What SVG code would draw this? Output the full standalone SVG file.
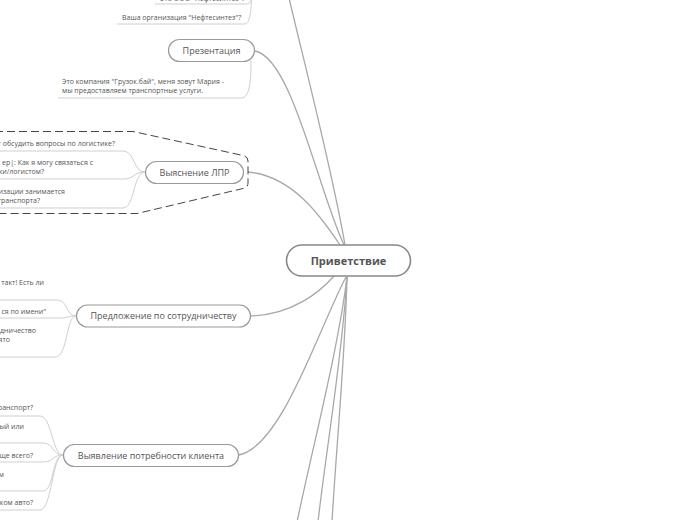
<svg xmlns="http://www.w3.org/2000/svg" width="696" height="520" viewBox="0 0 696 520">
<style>
.bg{fill:#ffffff}
.node rect{fill:#ffffff;stroke:#9a9a9a;stroke-width:1.2}
.root rect{fill:#ffffff;stroke:#888888;stroke-width:1.6}
.nt{font-family:"Open Sans","Liberation Sans",sans-serif;font-size:9px;fill:#555555;text-anchor:middle}
.rt{font-family:"Open Sans","Liberation Sans",sans-serif;font-size:11px;font-weight:bold;fill:#555555;text-anchor:middle}
.ct{font-family:"Open Sans","Liberation Sans",sans-serif;font-size:7px;fill:#555555}
.ce{text-anchor:end}
.main{fill:none;stroke:#a8a8a8;stroke-width:1.3}
.sub{fill:none;stroke:#cfcfcf;stroke-width:1}
.bound{fill:none;stroke:#444444;stroke-width:1;stroke-dasharray:8,4}
</style>
<rect class="bg" x="0" y="0" width="696" height="520"/>

<g id="connectors">
  <path class="main" d="M345,245 C332,170 306,70 289,-2"/>
  <path class="main" d="M255,51 C292,58 318,190 344,245"/>
  <path class="main" d="M248,172 C292,176 320,215 340,245"/>
  <path class="main" d="M250,316 C292,315 320,292 334,276"/>
  <path class="main" d="M239,455 C282,446 318,330 346,277"/>
  <path class="main" d="M347,277 C338,350 312,450 297,522"/>
  <path class="main" d="M347,277 C342,360 326,450 318,522"/>
  <path class="main" d="M347,277 C345,360 336,450 332,522"/>
  <!-- top branch children -->
  <path class="sub" d="M252,-12 C252,0 251,4 246,4 L155,4"/>
  <path class="sub" d="M252,-12 C251,10 251,24 244,24 L117,24"/>
  <!-- presentation child -->
  <path class="sub" d="M251,60 C251,80 250,98 241,98 L58,98"/>
  <!-- LPR children -->
  <path class="sub" d="M145,172 C133,172 135,151 123,151 L-5,151"/>
  <path class="sub" d="M145,172 C133,172 135,179 123,179 L-5,179"/>
  <path class="sub" d="M145,172 C133,172 135,208 123,208 L-5,208"/>
  <!-- offer children -->
  <path class="sub" d="M76,316 C66,316 68,300 57,300 L-5,300"/>
  <path class="sub" d="M76,316 C66,316 70,318 60,318 L-5,318"/>
  <path class="sub" d="M76,316 C66,316 68,357 55,357 L-5,357"/>
  <!-- needs children -->
  <path class="sub" d="M63,455 C52,455 52,416 40,416 L-5,416"/>
  <path class="sub" d="M63,455 C52,455 54,443 43,443 L-5,443"/>
  <path class="sub" d="M63,455 C52,455 54,462 43,462 L-5,462"/>
  <path class="sub" d="M63,455 C52,455 54,491 43,491 L-5,491"/>
  <path class="sub" d="M63,455 C52,455 52,510 40,510 L-5,510"/>
</g>

<g id="boundary-lpr">
  <path class="bound" d="M-5,131.5 L133,131.5 L243,155.5 Q248,156.5 248,161 L248,183 Q248,187.5 243,188.5 L137,213.5 L-5,213.5"/>
</g>

<g id="n-top-children">
  <text class="ct" x="160" y="1">Это ООО "Нефтесинтез"?</text>
  <text class="ct" x="122" y="19.5">Ваша организация "Нефтесинтез"?</text>
</g>

<g id="n-presentation" class="node">
  <rect x="168.5" y="39.5" width="86" height="22" rx="11"/>
  <text class="nt" x="211.5" y="53.5">Презентация</text>
</g>
<g id="n-presentation-children">
  <text class="ct" x="62" y="84">Это компания "Грузок.бай", меня зовут Мария -</text>
  <text class="ct" x="62" y="93">мы предоставляем транспортные услуги.</text>
</g>

<g id="n-lpr" class="node">
  <rect x="145.5" y="161.5" width="98" height="22" rx="11"/>
  <text class="nt" x="194.5" y="175.5">Выяснение ЛПР</text>
</g>
<g id="n-lpr-children">
  <text class="ct ce" x="115" y="145.5">т обсудить вопросы по логистике?</text>
  <text class="ct ce" x="93" y="164.5">ер|: Как я могу связаться с</text>
  <text class="ct ce" x="44" y="174">ки/логистом?</text>
  <text class="ct ce" x="65" y="193.5">изации занимается</text>
  <text class="ct ce" x="40" y="202.5">транспорта?</text>
</g>

<g id="n-root" class="root">
  <rect x="286.5" y="245" width="124" height="31" rx="15.5"/>
  <text class="rt" x="348.5" y="264.5">Приветствие</text>
</g>

<g id="n-offer" class="node">
  <rect x="76.5" y="305" width="174" height="22" rx="11"/>
  <text class="nt" x="163.5" y="319">Предложение по сотрудничеству</text>
</g>
<g id="n-offer-children">
  <text class="ct ce" x="44" y="284.5">такт! Есть ли</text>
  <text class="ct ce" x="46" y="313.5">ся по имени"</text>
  <text class="ct ce" x="36" y="332.5">дничество</text>
  <text class="ct ce" x="10" y="341.5">ято</text>
</g>

<g id="n-needs" class="node">
  <rect x="63.5" y="444.5" width="175" height="22" rx="11"/>
  <text class="nt" x="151" y="458.5">Выявление потребности клиента</text>
</g>
<g id="n-needs-children">
  <text class="ct ce" x="33" y="409.5">ранспорт?</text>
  <text class="ct ce" x="24" y="428.5">ый или</text>
  <text class="ct ce" x="33" y="457.5">ще всего?</text>
  <text class="ct ce" x="4" y="476.5">м</text>
  <text class="ct ce" x="33" y="504.5">ком авто?</text>
</g>
</svg>
